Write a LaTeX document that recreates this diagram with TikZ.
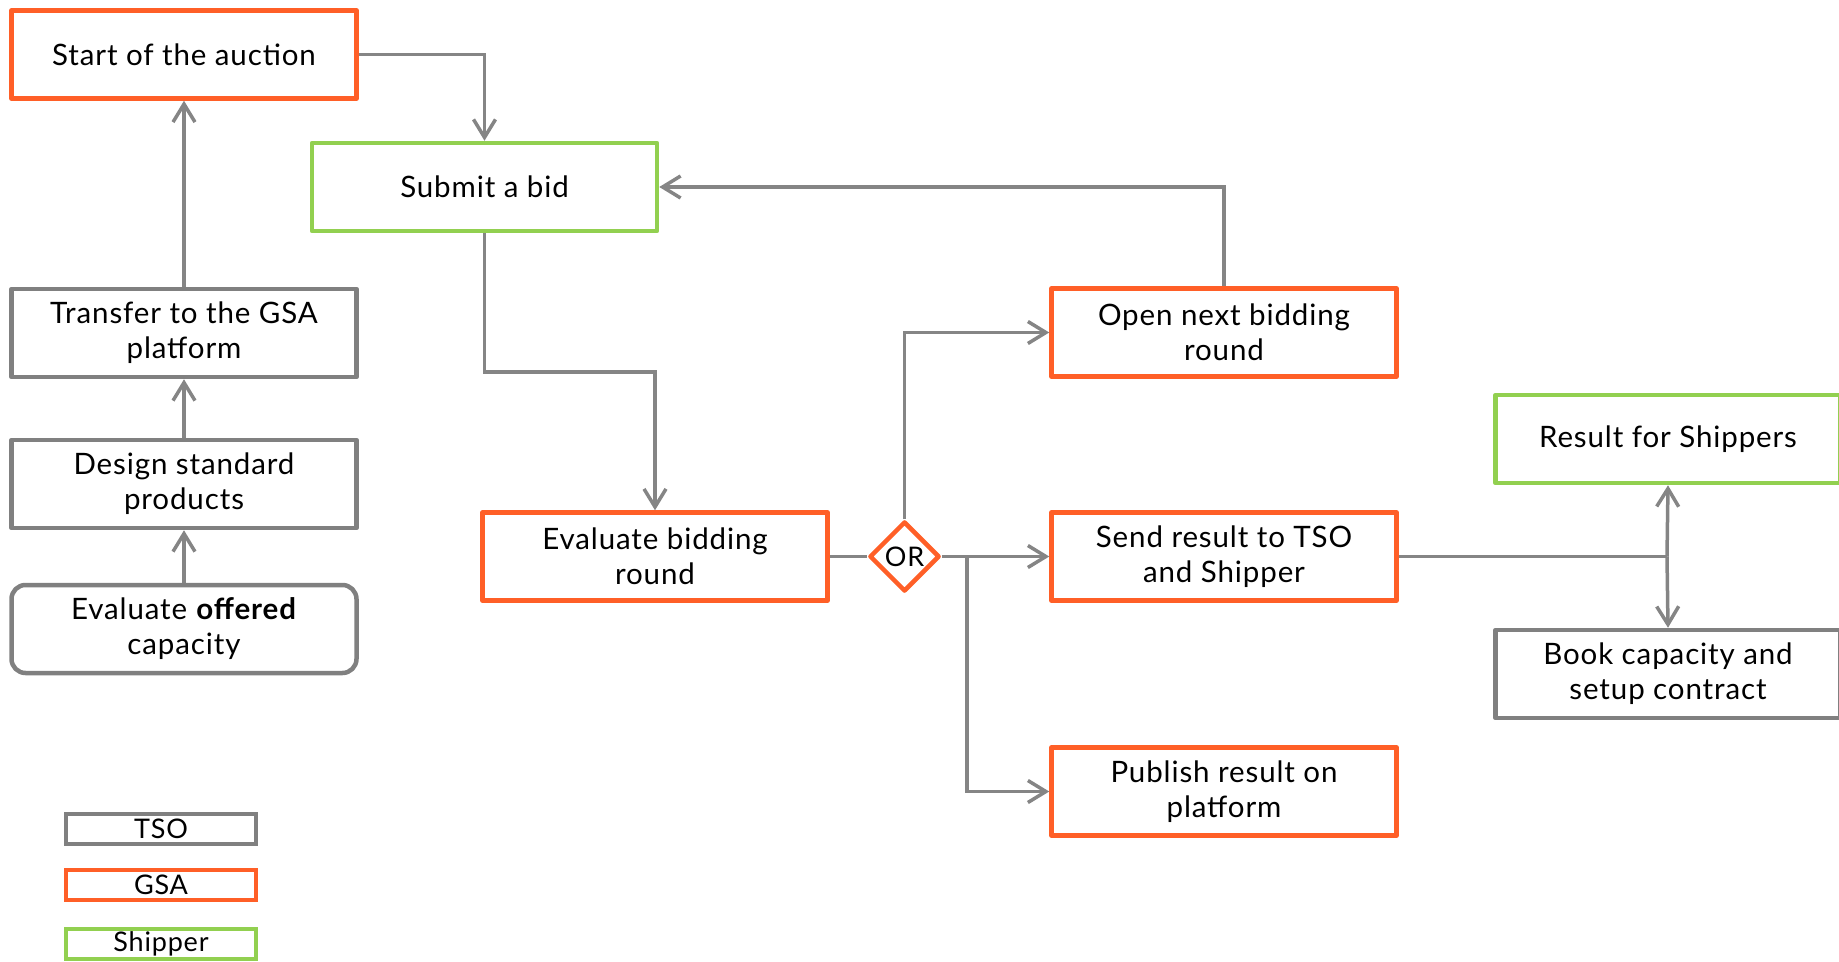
\documentclass[tikz,border=0pt]{standalone}
\usepackage{fontspec}
\setmainfont[LetterSpace=3]{Lato}
\usetikzlibrary{arrows.meta,shapes.geometric,calc}
\definecolor{tsoc}{HTML}{808080}
\definecolor{gsac}{HTML}{FF5F27}
\definecolor{shpc}{HTML}{92D050}
\definecolor{connc}{HTML}{858585}
\begin{document}
\begin{tikzpicture}[x=1pt,y=-1pt,
  box/.style={draw, line width=4.5pt, minimum width=345pt, minimum height=88pt,
    align=center, inner sep=0pt, fill=white, line join=round,
    font=\fontsize{29.5}{35}\selectfont},
  tsobox/.style={box, draw=tsoc},
  gsabox/.style={box, draw=gsac},
  shpbox/.style={box, draw=shpc},
  conn/.style={draw=connc, line width=3.5pt},
  arr/.style={conn, -{Straight Barb[length=18pt,width=22pt]}},
  leg/.style={draw, line width=4pt, minimum width=190pt, minimum height=30pt,
    inner sep=0pt, fill=white, font=\fontsize{27}{27}\selectfont}
]
\useasboundingbox (0,0) rectangle (1839,961);

% nodes
\node[gsabox] (start) at (184,54.5) {Start of the auction};
\node[shpbox] (submit) at (484.5,187) {Submit a bid};
\node[tsobox] (transfer) at (184,333) {Transfer to the GSA\\platform};
\node[tsobox] (design) at (184,484) {Design standard\\products};
\node[tsobox, rounded corners=14pt] (offered) at (184,629) {Evaluate \textbf{offered}\\capacity};
\node[gsabox] (evalbid) at (655,556.5) {Evaluate bidding\\round};
\node[diamond, draw=gsac, line width=4.5pt, minimum width=70pt, minimum height=70pt,
  inner sep=0pt, fill=white, line join=round, font=\fontsize{27}{27}\selectfont] (or) at (904.5,556.5) {OR};
\node[gsabox] (open) at (1224,332.5) {Open next bidding\\round};
\node[gsabox] (send) at (1224,556.5) {Send result to TSO\\and Shipper};
\node[gsabox] (publish) at (1224,791.5) {Publish result on\\platform};
\node[shpbox] (result) at (1668,439) {Result for Shippers};
\node[tsobox] (book) at (1668,674) {Book capacity and\\setup contract};

% legend
\node[leg, draw=tsoc] (ltso) at (161,829) {TSO};
\node[leg, draw=gsac] (lgsa) at (161,885) {GSA};
\node[leg, draw=shpc] (lshp) at (161,944) {Shipper};

% helper coordinates
\coordinate (k1) at (0,372);
\coordinate (br) at (967,556.5);
\coordinate (jn) at (1667,556.5);

% connectors
\draw[arr] (start.east) -| (submit.north);
\draw[arr] (submit.south) -- (submit.south |- k1) -| (evalbid.north);
\draw[arr] (open.north) |- (submit.east);
\draw[arr] (transfer.north) -- (start.south);
\draw[arr] (design.north) -- (transfer.south);
\draw[arr] (offered.north) -- (design.south);
\draw[conn] (evalbid.east) -- (or.west);
\draw[arr] (or.north) |- (open.west);
\draw[arr] (or.east) -- (send.west);
\draw[arr] (br) |- (publish.west);
\draw[conn] (send.east) -- (jn);
\draw[arr] (jn) -- (result.south);
\draw[arr] (jn) -- (book.north);
\end{tikzpicture}
\end{document}
